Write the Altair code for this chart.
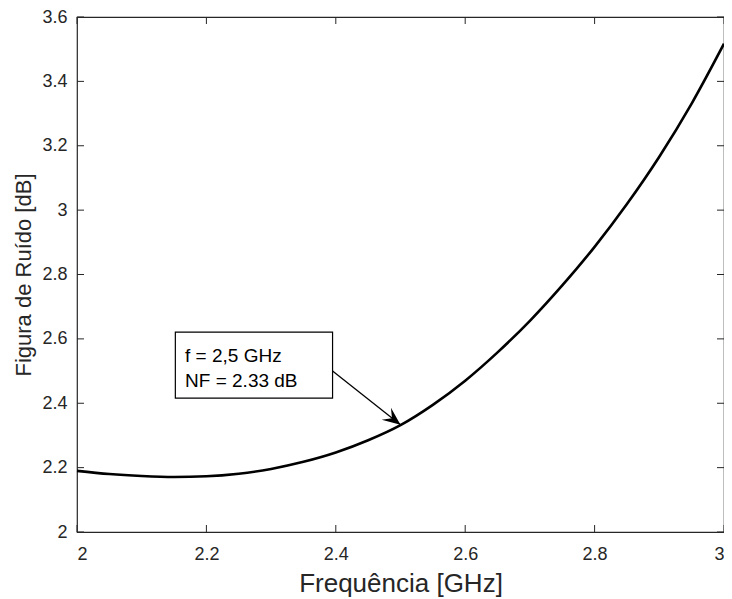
import altair as alt
import pandas as pd

# Curve: noise figure vs frequency
freq = [2.00, 2.05, 2.10, 2.15, 2.20, 2.25, 2.30, 2.35, 2.40, 2.45, 2.50,
        2.55, 2.60, 2.65, 2.70, 2.75, 2.80, 2.85, 2.90, 2.95, 3.00]
nf = [2.190, 2.180, 2.174, 2.171, 2.173, 2.181, 2.196, 2.218, 2.247, 2.285, 2.332,
      2.395, 2.470, 2.558, 2.656, 2.766, 2.886, 3.019, 3.166, 3.331, 3.517]

x_ticks = [2.0, 2.2, 2.4, 2.6, 2.8, 3.0]
y_ticks = [2.0, 2.2, 2.4, 2.6, 2.8, 3.0, 3.2, 3.4, 3.6]

# Annotation (data coordinates)
box_x = [2.152]
box_x2 = [2.395]
box_y = [2.416]
box_y2 = [2.621]
ann_x = [2.167, 2.167]
ann_y = [2.528, 2.450]
ann_text = ["f = 2,5 GHz", "NF = 2.33 dB"]
arrow_x = [2.395]
arrow_y = [2.500]
arrow_x2 = [2.500]
arrow_y2 = [2.333]

W, H = 647, 515
FONT = "Liberation Sans"
AX = "#262626"
TL = 7

xs = alt.Scale(domain=[2, 3], nice=False, zero=False)
ys = alt.Scale(domain=[2, 3.6], nice=False, zero=False)

curve_df = pd.DataFrame({"f": freq, "nf": nf})

line = alt.Chart(curve_df).mark_line(color="black", strokeWidth=2.6, interpolate="monotone").encode(
    x=alt.X("f:Q", scale=xs,
            axis=alt.Axis(values=x_ticks, format="~g", title="Frequência [GHz]",
                          tickSize=0, labelPadding=13, titlePadding=7,
                          labelFontSize=18, titleFontSize=26)),
    y=alt.Y("nf:Q", scale=ys,
            axis=alt.Axis(values=y_ticks, format="~g", title="Figura de Ruído [dB]",
                          tickSize=0, labelPadding=10, titlePadding=6,
                          labelFontSize=18, titleFontSize=22)),
)

xt = pd.DataFrame({"v": x_ticks})
yt = pd.DataFrame({"v": y_ticks})
tick_bottom = alt.Chart(xt).mark_rule(color=AX, strokeWidth=1).encode(
    x="v:Q", y=alt.value(H), y2=alt.value(H - TL))
tick_top = alt.Chart(xt).mark_rule(color=AX, strokeWidth=1).encode(
    x="v:Q", y=alt.value(0), y2=alt.value(TL))
tick_left = alt.Chart(yt).mark_rule(color=AX, strokeWidth=1).encode(
    y="v:Q", x=alt.value(0), x2=alt.value(TL))
tick_right = alt.Chart(yt).mark_rule(color=AX, strokeWidth=1).encode(
    y="v:Q", x=alt.value(W - TL), x2=alt.value(W))

box = alt.Chart(pd.DataFrame({"x": box_x, "x2": box_x2, "y": box_y, "y2": box_y2})).mark_rect(
    fill="white", stroke="black", strokeWidth=1.2).encode(
    x="x:Q", x2="x2:Q", y="y:Q", y2="y2:Q")

texts = alt.Chart(pd.DataFrame({"x": ann_x, "y": ann_y, "t": ann_text})).mark_text(
    align="left", baseline="alphabetic", font=FONT, fontSize=19, color="black").encode(
    x="x:Q", y="y:Q", text="t:N")

arrow = alt.Chart(pd.DataFrame({"x": arrow_x, "y": arrow_y, "x2": arrow_x2, "y2": arrow_y2})).mark_rule(
    color="black", strokeWidth=1.3).encode(x="x:Q", y="y:Q", x2="x2:Q", y2="y2:Q")

head = alt.Chart(pd.DataFrame({"x": arrow_x2, "y": arrow_y2})).mark_point(
    shape="M0,0L-0.42,1L0,0.6L0.42,1Z", filled=True, size=1300, angle=128,
    color="black", opacity=1).encode(x="x:Q", y="y:Q")

chart = alt.layer(line, tick_bottom, tick_top, tick_left, tick_right, box, texts, arrow, head).properties(
    width=W, height=H,
    autosize=alt.AutoSizeParams(type="none"),
    padding={"left": 69, "top": 9, "right": 0, "bottom": 76},
).configure_view(
    stroke=AX, strokeWidth=1.2
).configure_axis(
    domain=False, grid=False, labelFont=FONT, titleFont=FONT,
    labelColor=AX, titleColor=AX, titleFontWeight="normal",
)

chart.save("out.html", embed_options={"renderer": "svg", "actions": False})
